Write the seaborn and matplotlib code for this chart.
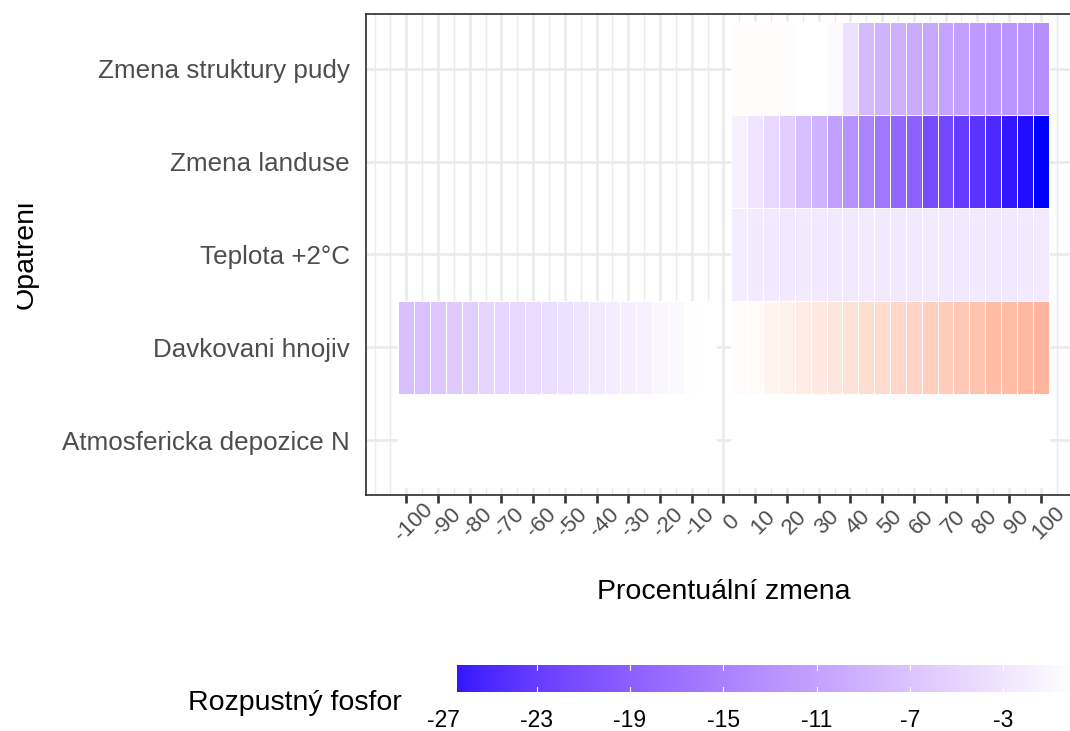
import numpy as np
import pandas as pd
import matplotlib
matplotlib.use("Agg")
import matplotlib.pyplot as plt
import seaborn as sns
from matplotlib.colors import ListedColormap, Normalize
from matplotlib.transforms import ScaledTranslation, Bbox

# ---------------- data ----------------
categories = ["Zmena struktury pudy", "Zmena landuse", "Teplota +2°C",
              "Davkovani hnojiv", "Atmosfericka depozice N"]
x_pos = [5, 10, 15, 20, 25, 30, 35, 40, 45, 50, 55, 60, 65, 70, 75, 80, 85, 90, 95, 100]
x_neg = [-100, -95, -90, -85, -80, -75, -70, -65, -60, -55, -50, -45, -40, -35, -30,
         -25, -20, -15, -10, -5]

struktury_pos = [0.4, 0.4, 0.4, 0.3, 0.0, 0.0, -0.5, -3.6, -8.2, -9.0, -9.3, -9.9,
                 -10.4, -11.0, -11.5, -12.0, -12.4, -12.8, -12.9, -13.3]
landuse_pos = [-1.6, -3.1, -4.6, -5.7, -7.6, -9.0, -11.6, -13.0, -14.7, -16.2, -18.2,
               -18.9, -21.5, -21.8, -23.1, -24.0, -25.0, -26.5, -27.0, -27.6]
teplota_pos = [-2.3, -2.5, -2.5, -2.6, -2.5, -2.5, -2.6, -2.6, -2.5, -2.6, -2.6, -2.6,
               -2.5, -2.6, -2.6, -2.5, -2.6, -2.6, -2.5, -2.5]
davkovani_neg = [-7.6, -7.5, -6.6, -6.4, -5.6, -5.1, -4.7, -4.4, -4.2, -3.9, -3.5, -3.1,
                 -2.5, -2.3, -1.9, -1.6, -1.1, -0.8, -0.1, 0.0]
davkovani_pos = [0.5, 0.6, 1.6, 1.9, 2.7, 3.1, 3.7, 4.2, 4.8, 5.2, 5.9, 6.3, 7.0, 7.4,
                 8.0, 8.5, 9.4, 9.6, 10.1, 10.6]
atmosfericka_neg = [0.0] * 20
atmosfericka_pos = [0.0] * 20

x_ticks = [-100, -90, -80, -70, -60, -50, -40, -30, -20, -10, 0, 10, 20, 30, 40, 50,
           60, 70, 80, 90, 100]
legend_ticks = [-27, -23, -19, -15, -11, -7, -3]

# ---------------- long -> wide ----------------
rows = []
for cat, xs, vals in [
    (categories[0], x_pos, struktury_pos),
    (categories[1], x_pos, landuse_pos),
    (categories[2], x_pos, teplota_pos),
    (categories[3], x_neg, davkovani_neg),
    (categories[3], x_pos, davkovani_pos),
    (categories[4], x_neg, atmosfericka_neg),
    (categories[4], x_pos, atmosfericka_pos),
]:
    for x, v in zip(xs, vals):
        rows.append((cat, x, v))
df = pd.DataFrame(rows, columns=["Opatreni", "zmena", "fosfor"])
all_x = list(range(-100, 105, 5))
wide = df.pivot(index="Opatreni", columns="zmena", values="fosfor")
wide = wide.reindex(index=categories, columns=all_x)

# ---------------- Lab colour ramp (blue - white - red) ----------------
M = np.array([[0.4124564, 0.3575761, 0.1804375],
              [0.2126729, 0.7151522, 0.0721750],
              [0.0193339, 0.1191920, 0.9503041]])
WHITE = np.array([0.95047, 1.0, 1.08883])
d = 6 / 29


def to_lab(rgb):
    c = np.asarray(rgb, float)
    lin = np.where(c <= 0.04045, c / 12.92, ((c + 0.055) / 1.055) ** 2.4)
    xyz = M @ lin / WHITE
    f = np.where(xyz > d ** 3, np.cbrt(xyz), xyz / (3 * d * d) + 4 / 29)
    return np.array([116 * f[1] - 16, 500 * (f[0] - f[1]), 200 * (f[1] - f[2])])


def from_lab(lab):
    L, a, b = lab
    fy = (L + 16) / 116
    fx = fy + a / 500
    fz = fy - b / 200
    f = np.array([fx, fy, fz])
    xyz = np.where(f > d, f ** 3, 3 * d * d * (f - 4 / 29)) * WHITE
    lin = np.linalg.solve(M, xyz)
    lin = np.clip(lin, 0, 1)
    c = np.where(lin <= 0.0031308, 12.92 * lin, 1.055 * lin ** (1 / 2.4) - 0.055)
    return np.clip(c, 0, 1)


lab_b, lab_w, lab_r = to_lab([0, 0, 1]), to_lab([1, 1, 1]), to_lab([1, 0, 0])
cols = []
for t in np.linspace(0, 1, 511):
    if t <= 0.5:
        s = t / 0.5
        cols.append(from_lab(lab_b + (lab_w - lab_b) * s))
    else:
        s = (t - 0.5) / 0.5
        cols.append(from_lab(lab_w + (lab_r - lab_w) * s))
cmap = ListedColormap(cols)
lim = 27.6
norm = Normalize(vmin=-lim, vmax=lim)

# ---------------- figure ----------------
sns.set_style("white")
plt.rcParams["font.family"] = ["Liberation Sans", "DejaVu Sans"]

W, H = 1070, 731
fig = plt.figure(figsize=(W / 100, H / 100), dpi=100)

ax_l, ax_r, ax_t, ax_b = 365.9, 1081.1, 14.0, 495.0
ax = fig.add_axes([ax_l / W, 1 - ax_b / H, (ax_r - ax_l) / W, (ax_b - ax_t) / H])

sns.heatmap(wide, ax=ax, cmap=cmap, vmin=-lim, vmax=lim, cbar=False,
            linewidths=0.45, linecolor="white")

mesh = ax.collections[0]
arr = np.ma.masked_invalid(np.asarray(wide.values, float)).ravel()
mask = np.ma.getmaskarray(arr)
ec = np.array([(1, 1, 1, 0) if m else (1, 1, 1, 1) for m in mask])
mesh.set_edgecolor(ec)


def cpos(x):
    return (x + 102.5) / 5.0


ax.set_xlim(cpos(-112.75), cpos(112.75))
ax.set_ylim(5.088, -0.088)

ax.set_xticks([cpos(x) for x in x_ticks])
ax.set_xticklabels([str(x) for x in x_ticks])
minor = [x for x in range(-110, 115, 5) if x % 10 != 0 or abs(x) > 100]
ax.set_xticks([cpos(x) for x in minor], minor=True)
ax.set_yticks([i + 0.5 for i in range(len(categories))])
ax.set_yticklabels(categories, rotation=0, va="center_baseline")
ax.set_xlabel("")
ax.set_ylabel("")

ax.set_axisbelow(True)
ax.grid(which="major", color="#EBEBEB", linewidth=1.95)
ax.grid(which="minor", axis="x", color="#EBEBEB", linewidth=1.0)

for s in ax.spines.values():
    s.set_visible(True)
    s.set_color("#333333")
    s.set_linewidth(1.25)

ax.tick_params(axis="both", which="major", direction="out", length=5.8, width=1.9,
               color="#333333", labelcolor="#4D4D4D")
ax.tick_params(axis="x", which="minor", length=0)
ax.tick_params(axis="y", labelsize=18.7, pad=5.8)
ax.tick_params(axis="x", labelsize=16.0, pad=14.0, bottom=True)
off = ScaledTranslation(0.08, 0, fig.dpi_scale_trans)
for lab in ax.get_xticklabels():
    lab.set_rotation(45)
    lab.set_ha("center")
    lab.set_va("center")
    lab.set_transform(lab.get_transform() + off)

# axis titles
fig.text(724 / W, 1 - 592 / H, "Procentuální zmena", ha="center", va="center",
         fontsize=20.5, color="black")
yl = fig.text(26 / W, 1 - 254 / H, "Opatreni", ha="center", va="center",
              rotation=90, fontsize=20.5, color="black")
yl.set_clip_box(Bbox([[17, 0], [W, H]]))
yl.set_clip_on(True)

# ---------------- legend (colour bar) ----------------
px_per_unit = 23.33
v0, v1 = -26.4, 11.0
bar_l, bar_t, bar_b = 457.3, 665.0, 692.3
cax = fig.add_axes([bar_l / W, 1 - bar_b / H, (v1 - v0) * px_per_unit / W,
                    (bar_b - bar_t) / H])
grad = np.linspace(v0, v1, 600)[None, :]
cax.imshow(grad, cmap=cmap, norm=norm, aspect="auto", extent=(v0, v1, 0, 1),
           interpolation="bilinear")
cax.set_xlim(v0, v1)
cax.set_ylim(0, 1)
cax.set_axis_off()
for v in legend_ticks:
    if v0 < v < v1:
        cax.plot([v, v], [0, 0.2], color="white", lw=0.8)
        cax.plot([v, v], [0.8, 1], color="white", lw=0.8)
    cax.text(v, -0.6, str(v), ha="center", va="top", fontsize=16.5, color="black",
             transform=cax.transData, clip_on=False)

fig.text(188 / W, 1 - 710 / H, "Rozpustný fosfor", ha="left", va="baseline",
         fontsize=20.5, color="black")

fig.savefig("out.png", dpi=100)
